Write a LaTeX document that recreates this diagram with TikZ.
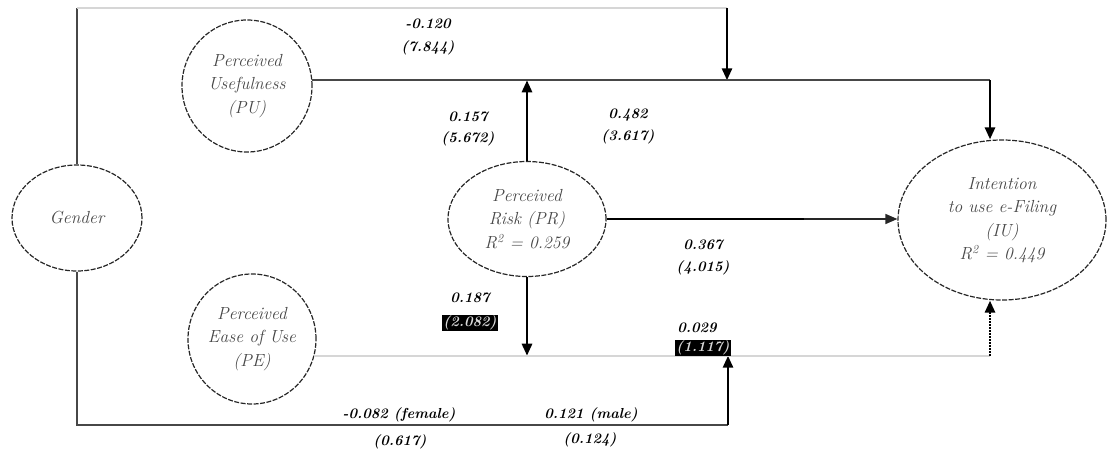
\documentclass[tikz,border=0pt]{standalone}
\usetikzlibrary{shapes.geometric,arrows.meta}
\begin{document}
\begin{tikzpicture}[x=1pt,y=-1pt,
  latent/.style={ellipse, draw=black!85, line width=1.2pt, dash pattern=on 5pt off 1.5pt,
    inner sep=0pt, align=center, text=black!72,
    font=\fontsize{17.5}{23.5}\selectfont\itshape},
  lab/.style={inner sep=1pt, font=\fontsize{14.5}{16}\selectfont\bfseries\itshape},
  inv/.style={lab, fill=black, text=white!85!black},
  dk/.style={draw=black!72, line width=1.9pt},
  lg/.style={draw=black!16, line width=2.2pt},
  arr/.style={draw=black, line width=2.7pt, -{Triangle[length=12pt,width=10pt]}},
  thinarr/.style={draw=black!85, line width=1.4pt, -{Triangle[length=12pt,width=10pt]}},
  dotarr/.style={draw=black, line width=2.7pt, dash pattern=on 1.5pt off 1.5pt, -{Triangle[length=12pt,width=10pt]}}
]
\useasboundingbox (0,0) rectangle (1107,452);

% latent variables
\node[latent, minimum width=130pt, minimum height=106pt] (G) at (77,218) {Gender};
\node[latent, minimum width=130pt, minimum height=132pt] (PU) at (247,86) {Perceived\\Usefulness\\(PU)};
\node[latent, minimum width=128pt, minimum height=130pt] (PE) at (252,339) {Perceived\\Ease of Use\\(PE)};
\node[latent, minimum width=158pt, minimum height=115pt] (PR) at (527,219) {Perceived\\Risk (PR)\\R\textsuperscript{2} = 0.259};
\node[latent, minimum width=208pt, minimum height=160pt] (RI) at (1002,220) {Intention\\to use e-Filing\\(IU)\\R\textsuperscript{2} = 0.449};

% helper coordinates
\coordinate (ctl) at (77,8);
\coordinate (ctr) at (727,8);
\coordinate (cbl) at (77,425);
\coordinate (cbr) at (728,425);
\coordinate (kx) at (990,0);
\coordinate (mid) at (804,219);

% Gender moderation paths
\draw[dk] (G.north) -- (ctl);
\draw[lg] (ctl) -- (ctr);
\draw[arr] (ctr) -- (ctr |- PU.5);
\draw[dk] (G.south) -- (cbl) -- (cbr);
\draw[arr] (cbr) -- (cbr |- PE.-15);

% PU -> RI
\draw[dk] (PU.5) -- (PU.5 -| kx);
\draw[arr] (PU.5 -| kx) -- (RI.north -| kx);

% PR -> PU line, PR -> PE line
\draw[arr] (PR.north) -- (PR.north |- PU.5);
\draw[arr] (PR.south) -- (PR.south |- PE.-15);

% PR -> RI
\draw[draw=black, line width=2.8pt] (PR.east) -- (mid);
\draw[thinarr] (mid) -- (mid -| RI.west);

% PE -> RI
\draw[lg] (PE.-15) -- (PE.-15 -| kx);
\draw[dotarr] (PE.-15 -| kx) -- (RI.south -| kx);

% path labels
\node[lab] (l1) at (428,24) {-0.120};
\node[lab] (l2) at (428,48) {(7.844)};
\node[lab] (l3) at (468,117) {0.157};
\node[lab] (l4) at (468,139) {(5.672)};
\node[lab] (l5) at (628,115) {0.482};
\node[lab] (l6) at (628,137) {(3.617)};
\node[lab] (l7) at (703,245) {0.367};
\node[lab] (l8) at (703,268) {(4.015)};
\node[lab] (l9) at (470,298) {0.187};
\node[inv] (l10) at (470,323) {(2.082)};
\node[lab] (l11) at (697,328) {0.029};
\node[inv] (l12) at (703,348) {(1.117)};
\node[lab] (l13) at (399,415) {-0.082 (female)};
\node[lab] (l14) at (400,442) {(0.617)};
\node[lab] (l15) at (591,415) {0.121 (male)};
\node[lab] (l16) at (590,440) {(0.124)};
\end{tikzpicture}
\end{document}
